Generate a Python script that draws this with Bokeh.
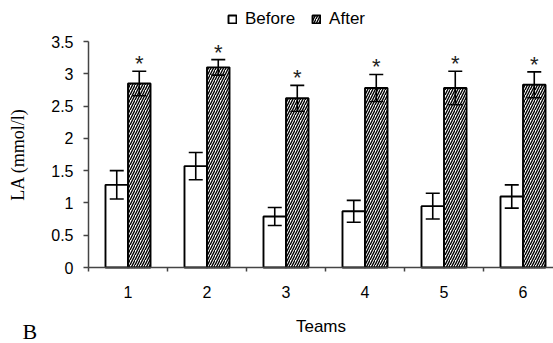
from bokeh.plotting import figure
from bokeh.models import (ColumnDataSource, Range1d, FixedTicker, Whisker, TeeHead,
                          Legend, LegendItem, Label, LinearAxis)
from bokeh.core.properties import value
from bokeh.embed import file_html
from bokeh.resources import INLINE

teams = ["1", "2", "3", "4", "5", "6"]
before = [1.28, 1.57, 0.79, 0.87, 0.95, 1.10]
before_err = [0.22, 0.21, 0.14, 0.17, 0.20, 0.18]
after = [2.85, 3.10, 2.62, 2.78, 2.78, 2.83]
after_err = [0.19, 0.12, 0.20, 0.21, 0.26, 0.20]
y_ticks = [0, 0.5, 1, 1.5, 2, 2.5, 3, 3.5]
y_labels = ["0", "0.5", "1", "1.5", "2", "2.5", "3", "3.5"]

W = 0.285
centers = [i + 0.5 for i in range(len(teams))]

src_b = ColumnDataSource(dict(
    x=[c - W / 2 for c in centers], top=before,
    upper=[v + e for v, e in zip(before, before_err)],
    lower=[v - e for v, e in zip(before, before_err)]))
src_a = ColumnDataSource(dict(
    x=[c + W / 2 for c in centers], top=after,
    upper=[v + e for v, e in zip(after, after_err)],
    lower=[v - e for v, e in zip(after, after_err)],
    star=["*"] * len(teams)))

SANS = "Liberation Sans"
SERIF = "Liberation Serif"

# frame fills the canvas; axes are drawn at fixed data locations
p = figure(width=553, height=343, output_backend="svg", toolbar_location=None,
           x_range=Range1d(-1.114, 5.886), y_range=Range1d(-1.177, 4.135),
           min_border=0, x_axis_type=None, y_axis_type=None)
p.outline_line_color = None
p.grid.visible = False
p.background_fill_color = "white"
p.border_fill_color = "white"

# bars
rb = p.vbar(x="x", top="top", width=W, source=src_b, fill_color="white",
            line_color="black", line_width=1.9)
ra = p.vbar(x="x", top="top", width=W, source=src_a, fill_color="white",
            line_color="black", line_width=1.9, hatch_pattern="/",
            hatch_color="black", hatch_scale=5, hatch_weight=1.4)

for s in (src_b, src_a):
    p.add_layout(Whisker(base="x", upper="upper", lower="lower", source=s,
                         level="overlay", line_color="black", line_width=1.6,
                         upper_head=TeeHead(size=14, line_width=1.6, line_color="black"),
                         lower_head=TeeHead(size=14, line_width=1.6, line_color="black")))

p.text(x="x", y="upper", text="star", source=src_a, text_align="center",
       text_baseline="bottom", y_offset=5, text_font=value(SANS),
       text_font_size="22px", text_color="#222222")

# axes
yax = LinearAxis(ticker=FixedTicker(ticks=y_ticks),
                 major_label_overrides={t: l for t, l in zip(y_ticks, y_labels)},
                 axis_label="LA (mmol/l)", fixed_location=0, bounds=(0, 3.5))
yax.axis_line_color = "#444444"
yax.axis_line_width = 1.5
yax.major_tick_line_color = "#444444"
yax.major_tick_line_width = 1.5
yax.major_tick_out = 5
yax.major_tick_in = 0
yax.minor_tick_line_color = None
yax.major_label_text_font = SANS
yax.major_label_text_font_size = "16px"
yax.major_label_text_color = "black"
yax.major_label_standoff = 10
yax.axis_label_text_font = SERIF
yax.axis_label_text_font_style = "normal"
yax.axis_label_text_font_size = "18px"
yax.axis_label_text_color = "black"
yax.axis_label_standoff = 20
p.add_layout(yax, "left")

xax = LinearAxis(ticker=FixedTicker(ticks=centers, minor_ticks=list(range(0, 7))),
                 major_label_overrides={c: t for c, t in zip(centers, teams)},
                 axis_label="Teams", fixed_location=0, bounds=(0, 6))
xax.axis_line_color = "#444444"
xax.axis_line_width = 1.5
xax.major_tick_line_color = None
xax.major_tick_out = 0
xax.major_tick_in = 0
xax.minor_tick_line_color = "#444444"
xax.minor_tick_line_width = 1.5
xax.minor_tick_out = 4
xax.minor_tick_in = 0
xax.major_label_text_font = SANS
xax.major_label_text_font_size = "16px"
xax.major_label_text_color = "black"
xax.major_label_standoff = 14
xax.axis_label_text_font = SANS
xax.axis_label_text_font_style = "normal"
xax.axis_label_text_font_size = "17px"
xax.axis_label_text_color = "black"
xax.axis_label_standoff = 16
p.add_layout(xax, "below")

legend = Legend(items=[LegendItem(label="Before", renderers=[rb]),
                       LegendItem(label="After", renderers=[ra])],
                orientation="horizontal", location=(227, 314),
                label_text_font=SANS, label_text_font_size="17px",
                label_text_color="black",
                glyph_width=10, glyph_height=10, label_standoff=8, spacing=16,
                padding=0, margin=0, border_line_color=None,
                background_fill_alpha=0)
p.add_layout(legend, "center")

p.add_layout(Label(x=-0.835, y=-0.99, text="B", text_font=SERIF,
                   text_font_size="22px", text_color="black",
                   text_baseline="middle"))

open("out.html", "w").write(file_html(p, INLINE))
